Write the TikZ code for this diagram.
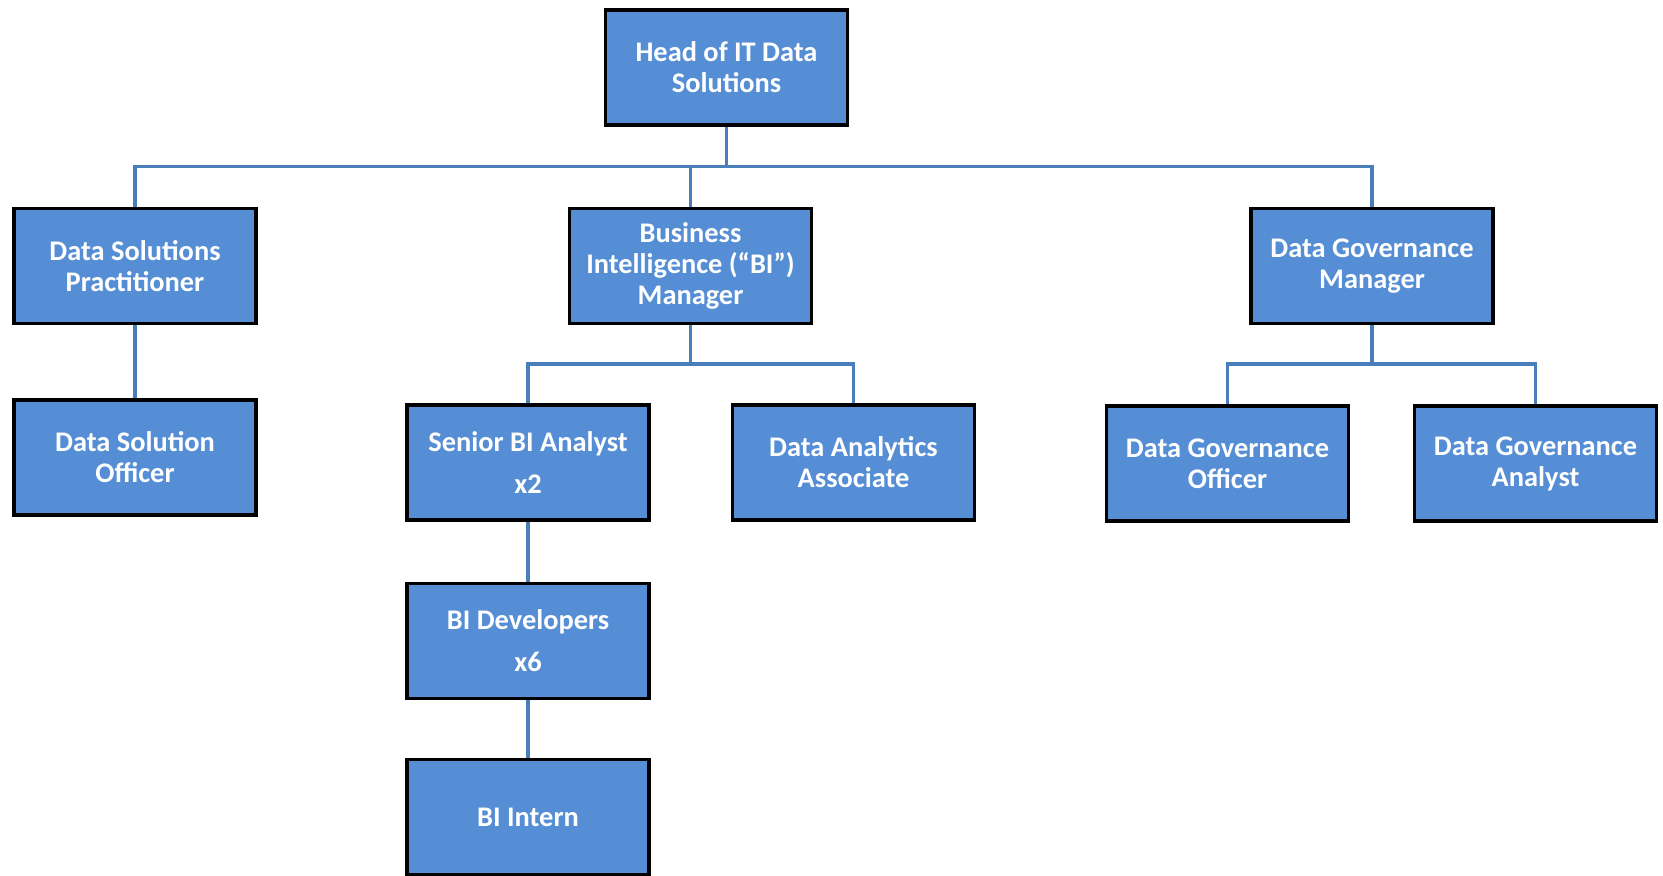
\documentclass[tikz,border=0pt]{standalone}
\usepackage{fontspec}
\setmainfont{Carlito}
\definecolor{boxfill}{HTML}{558ED5}
\definecolor{linkblue}{HTML}{4A7EBB}
\begin{document}
\begin{tikzpicture}[x=0.5pt,y=-0.5pt,
  role/.style={rectangle, draw=black, line width=1.6pt, fill=boxfill,
    text=white, align=center, inner sep=0pt,
    minimum width=121pt, minimum height=57.5pt,
    font=\fontsize{14.2pt}{15.5pt}\selectfont\bfseries},
  conn/.style={draw=linkblue, line width=1.6pt}]
% page frame
\clip (0,0) rectangle (1663,875);
\fill[white] (0,0) rectangle (1663,875);

% boxes
\node[role] (head) at (726.5,67.5) {Head of IT Data\\Solutions};
\node[role] (dsp) at (135,266) {Data Solutions\\Practitioner};
\node[role] (bim) at (690.5,266) {Business\\Intelligence (“BI”)\\Manager};
\node[role] (dgm) at (1372,266) {Data Governance\\Manager};
\node[role] (dso) at (135,457.5) {Data Solution\\Officer};
\node[role] (sba) at (528,462.5) {Senior BI Analyst\\[5.5pt]x2};
\node[role] (daa) at (853.5,462.5) {Data Analytics\\Associate};
\node[role] (dgo) at (1227.5,463.5) {Data Governance\\Officer};
\node[role] (dga) at (1535.5,463.5) {Data Governance\\Analyst};
\node[role] (bid) at (528,641) {BI Developers\\[5.5pt]x6};
\node[role] (bii) at (528,817) {BI Intern};

% bus heights
\coordinate (bus0) at (0,166.5);
\coordinate (bus1) at (0,364);

% connectors
\draw[conn] (head.south) -- (head.south |- bus0);
\draw[conn] (dsp.north) -- (dsp.north |- bus0) -| (dgm.north);
\draw[conn] (bim.north) -- (bim.north |- bus0);
\draw[conn] (dsp.south) -- (dso.north);
\draw[conn] (bim.south) -- (bim.south |- bus1);
\draw[conn] (sba.north) -- (sba.north |- bus1) -| (daa.north);
\draw[conn] (dgm.south) -- (dgm.south |- bus1);
\draw[conn] (dgo.north) -- (dgo.north |- bus1) -| (dga.north);
\draw[conn] (sba.south) -- (bid.north);
\draw[conn] (bid.south) -- (bii.north);
\end{tikzpicture}
\end{document}
